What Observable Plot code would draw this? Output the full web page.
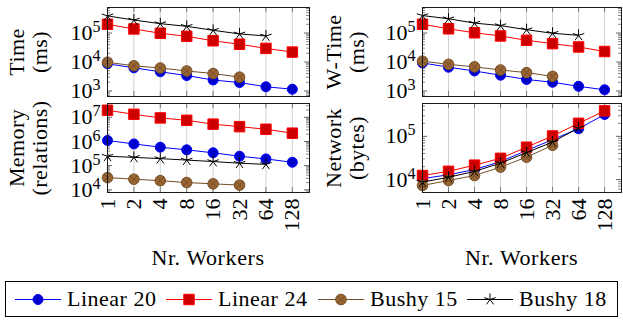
<!DOCTYPE html>
<html>
<head>
<meta charset="utf-8">
<script src="https://cdn.jsdelivr.net/npm/d3@7"></script>
<script src="https://cdn.jsdelivr.net/npm/@observablehq/plot@0.6"></script>
<style>
  html, body { margin: 0; padding: 0; background: #fff; }
  #fig { position: relative; width: 623px; height: 320px; overflow: hidden;
         font-family: "Liberation Serif", "Times New Roman", serif; color: #000; }
  #fig svg.panel { position: absolute; overflow: visible; }
  .ylab { position: absolute; transform: translate(-50%, -50%) rotate(-90deg);
          text-align: center; white-space: nowrap; font-size: 22px; line-height: 23px; letter-spacing: 0.4px; }
  .xlab { position: absolute; transform: translate(-50%, -50%); white-space: nowrap; font-size: 22px; letter-spacing: 0.6px; }
  #legend { position: absolute; left: 5px; top: 281px; width: 613px; height: 36px;
            border: 1px solid #000; box-sizing: border-box; font-size: 22px; }
  #legend .item { position: absolute; top: 0; height: 34px; display: flex; align-items: center; }
  #legend .item span { margin-left: 6px; letter-spacing: 0.5px; }
</style>
</head>
<body>
<div id="fig"></div>
<script>
// ---------------- data ----------------
const workers = [1, 2, 4, 8, 16, 32, 64, 128];
const seriesNames = ["Linear 20", "Linear 24", "Bushy 15", "Bushy 18"];

// Time (ms)
const timeLinear20 = [8700, 6300, 4600, 3400, 2400, 1950, 1400, 1150];
const timeLinear24 = [200000, 138000, 98000, 77000, 54000, 41000, 29500, 22000];
const timeBushy15  = [9800, 7400, 6200, 4900, 4000, 3000];
const timeBushy18  = [390000, 280000, 210000, 170000, 124000, 93000, 79000];

// W-Time (ms)
const wtimeLinear20 = [9300, 6600, 4900, 3500, 2500, 2000, 1450, 1100];
const wtimeLinear24 = [200000, 140000, 102000, 79000, 56000, 43000, 33000, 23000];
const wtimeBushy15  = [10700, 8300, 6800, 5300, 4300, 3200];
const wtimeBushy18  = [400000, 310000, 220000, 180000, 130000, 98000, 83000];

// Memory (relations)
const memLinear20 = [1100000, 790000, 580000, 450000, 340000, 245000, 190000, 138000];
const memLinear24 = [19500000, 13300000, 9400000, 7500000, 5200000, 4100000, 3200000, 2200000];
const memBushy15  = [32000, 27500, 24000, 20000, 17700, 15700];
const memBushy18  = [245000, 220000, 195000, 170000, 148000, 126000, 113000];

// Network (bytes)
const netLinear20 = [10500, 12900, 17000, 26000, 47000, 84000, 150000, 320000];
const netLinear24 = [12400, 15500, 21500, 31000, 56000, 102000, 200000, 390000];
const netBushy15  = [7300, 9500, 12400, 19400, 33000, 62000];
const netBushy18  = [8700, 11300, 15400, 24000, 42000, 74000, 156000];

// tick labels
const yTicksTime = [1e3, 1e4, 1e5];
const yTicksMemory = [1e4, 1e5, 1e6, 1e7];
const yTicksNetwork = [1e4, 1e5];

// ---------------- styling ----------------
const star5 = {
  draw(ctx, size) {
    const r = Math.sqrt(size / Math.PI);
    for (let k = 0; k < 5; k++) {
      const a = -Math.PI / 2 + k * 2 * Math.PI / 5;
      ctx.moveTo(0, 0);
      ctx.lineTo(r * Math.cos(a), r * Math.sin(a));
    }
  }
};
const otimes = {
  draw(ctx, size) {
    const r = Math.sqrt(size / Math.PI);
    ctx.moveTo(r, 0);
    ctx.arc(0, 0, r, 0, 2 * Math.PI);
    const q = r * Math.SQRT1_2;
    ctx.moveTo(-q, -q); ctx.lineTo(q, q);
    ctx.moveTo(q, -q); ctx.lineTo(-q, q);
  }
};
const styles = [
  {line: "#0000ff", fill: "#0000cc", stroke: "#0000ff", symbol: "circle", r: 5},
  {line: "#ff0000", fill: "#cc0000", stroke: "#ff0000", symbol: "square", r: 5.9},
  {line: "#734d26", fill: "#996633", stroke: "#734d26", symbol: otimes, r: 5.3},
  {line: "#000000", fill: "none", stroke: "#000000", symbol: star5, r: 6}
];

const panels = [
  {label: ["Time", "(ms)"], series: [timeLinear20, timeLinear24, timeBushy15, timeBushy18],
   ticks: yTicksTime, domain: [10 ** 2.81, 10 ** 5.88], left: 0, top: 0, width: 310, mr: 1, bottom: false,
   labX: 27.5},
  {label: ["W-Time", "(ms)"], series: [wtimeLinear20, wtimeLinear24, wtimeBushy15, wtimeBushy18],
   ticks: yTicksTime, domain: [10 ** 2.81, 10 ** 5.88], left: 315, top: 0, width: 308, mr: 2, bottom: false,
   labX: 345},
  {label: ["Memory", "(relations)"], series: [memLinear20, memLinear24, memBushy15, memBushy18],
   ticks: yTicksMemory, domain: [10 ** 3.89, 10 ** 7.57], left: 0, top: 96, width: 310, mr: 1, bottom: true,
   labX: 27.5},
  {label: ["Network", "(bytes)"], series: [netLinear20, netLinear24, netBushy15, netBushy18],
   ticks: yTicksNetwork, domain: [10 ** 3.70, 10 ** 5.76], left: 315, top: 96, width: 308, mr: 2, bottom: true,
   labX: 345}
];

const fig = document.getElementById("fig");
const idx = workers.map((w, i) => i);
const ML = 107, MT = 7, INNER_H = 89;

panels.forEach(p => {
  const mb = p.bottom ? 50 : 1;
  const height = MT + INNER_H + mb;
  const innerW = p.width - ML - p.mr;
  const minor = d3.scaleLog().domain(p.domain).ticks().filter(v => !p.ticks.includes(v));
  const marks = [
    Plot.ruleX(idx, {x: d => d, stroke: "#d2d2d2", strokeWidth: 1}),
    Plot.tickX(idx, {x: d => d, stroke: "#777", insetTop: INNER_H - 5}),
    Plot.tickX(idx, {x: d => d, stroke: "#777", insetBottom: INNER_H - 5}),
    Plot.tickY(minor, {y: d => d, stroke: "#888", insetRight: innerW - 3}),
    Plot.tickY(minor, {y: d => d, stroke: "#888", insetLeft: innerW - 3}),
    Plot.tickY(p.ticks, {y: d => d, stroke: "#666", insetRight: innerW - 5}),
    Plot.tickY(p.ticks, {y: d => d, stroke: "#666", insetLeft: innerW - 5})
  ];
  p.series.forEach((arr, s) => {
    const st = styles[s];
    const rows = arr.map((v, i) => ({i, v, series: seriesNames[s]}));
    marks.push(Plot.line(rows, {x: "i", y: "v", stroke: st.line, strokeWidth: 1}));
    marks.push(Plot.dot(rows, {x: "i", y: "v", symbol: st.symbol, r: st.r, fill: st.fill,
                               stroke: st.stroke, strokeWidth: 1}));
  });
  marks.push(Plot.frame({stroke: "#1a1a1a", strokeWidth: 1}));
  marks.push(Plot.axisY(p.ticks, {anchor: "left", tickSize: 0, tickPadding: 7, label: null,
                                  tickFormat: d => String(Math.round(Math.log10(d)))}));
  if (p.bottom) {
    marks.push(Plot.axisX(idx, {anchor: "bottom", tickSize: 0, tickPadding: 6, tickRotate: -90, label: null,
                                textAnchor: "end", tickFormat: i => String(workers[i])}));
  }
  const svg = Plot.plot({
    width: p.width, height,
    marginLeft: ML, marginRight: p.mr, marginTop: MT, marginBottom: mb,
    style: {fontFamily: "'Liberation Serif', serif", fontSize: "22px", background: "transparent", overflow: "visible"},
    x: {type: "linear", domain: [0, 7.65], axis: null, label: null},
    y: {type: "log", domain: p.domain, axis: null, label: null},
    marks
  });
  svg.classList.add("panel");
  svg.style.left = p.left + "px";
  svg.style.top = p.top + "px";
  // superscript exponents on y tick labels
  d3.select(svg).selectAll('g[aria-label="y-axis tick label"] text').each(function () {
    const e = this.textContent;
    const t = d3.select(this);
    t.text("10");
    t.append("tspan").attr("dy", "-0.5em").attr("font-size", "16px").text(e);
  });
  fig.appendChild(svg);

  const lab = document.createElement("div");
  lab.className = "ylab";
  lab.innerHTML = p.label[0] + "<br>" + p.label[1];
  lab.style.left = p.labX + "px";
  lab.style.top = (p.top + MT + INNER_H / 2) + "px";
  fig.appendChild(lab);

  if (p.bottom) {
    const xl = document.createElement("div");
    xl.className = "xlab";
    xl.textContent = "Nr. Workers";
    xl.style.left = (p.left + ML + innerW / 2) + "px";
    xl.style.top = "258px";
    fig.appendChild(xl);
  }
});

// legend
const legend = document.createElement("div");
legend.id = "legend";
const itemLeft = [9, 160, 312, 461];
seriesNames.forEach((name, s) => {
  const st = styles[s];
  const item = document.createElement("div");
  item.className = "item";
  item.style.left = itemLeft[s] + "px";
  const sw = d3.create("svg").attr("width", 46).attr("height", 20);
  sw.append("line").attr("x1", 0).attr("x2", 46).attr("y1", 10.5).attr("y2", 10.5)
    .attr("stroke", st.line).attr("stroke-width", 1);
  const sym = typeof st.symbol === "string" ? (st.symbol === "circle" ? d3.symbolCircle : d3.symbolSquare) : st.symbol;
  sw.append("path").attr("transform", "translate(23,10.5)")
    .attr("d", d3.symbol(sym, st.r * st.r * Math.PI)())
    .attr("fill", st.fill).attr("stroke", st.stroke).attr("stroke-width", 1);
  item.appendChild(sw.node());
  const sp = document.createElement("span");
  sp.textContent = name;
  item.appendChild(sp);
  legend.appendChild(item);
});
fig.appendChild(legend);
</script>
</body>
</html>
